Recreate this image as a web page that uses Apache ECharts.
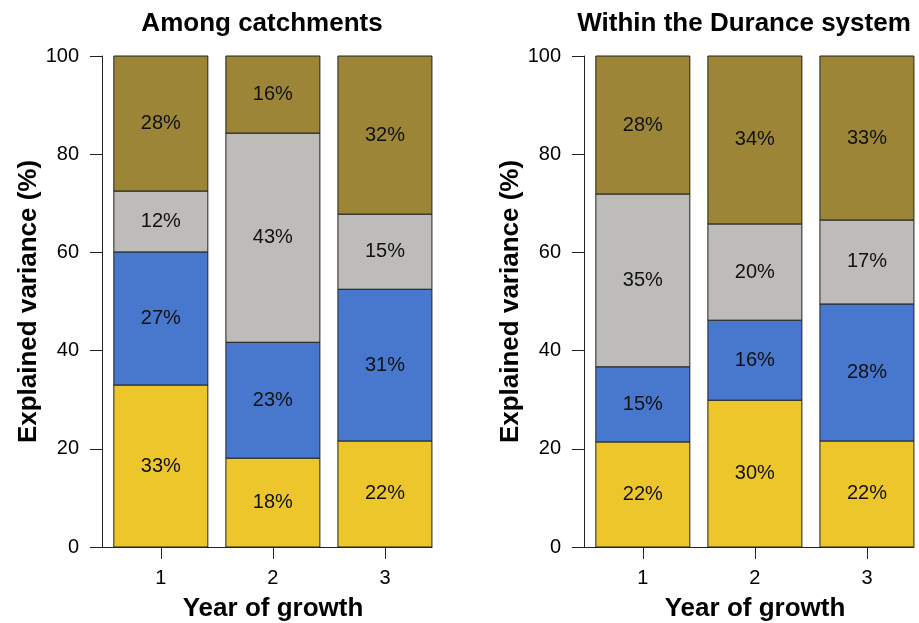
<!DOCTYPE html>
<html>
<head>
<meta charset="utf-8">
<script src="https://cdn.jsdelivr.net/npm/echarts@6/dist/echarts.min.js"></script>
<style>html,body{margin:0;padding:0;background:#fff;overflow:hidden;}#c{width:919px;height:623px;}</style>
</head>
<body>
<div id="c"></div>
<script>
// Data
const years = [1, 2, 3];
const yTicks = [0, 20, 40, 60, 80, 100];
const titles = ['Among catchments', 'Within the Durance system'];

// Panel 1: Among catchments (bottom to top: yellow, blue, grey, olive)
const amongYellow = [33.0, 18.1, 21.6];
const amongBlue   = [27.1, 23.6, 30.9];
const amongGrey   = [12.4, 42.6, 15.3];
const amongOlive  = [27.5, 15.7, 32.2];
const amongYellowLbl = ['33%', '18%', '22%'];
const amongBlueLbl   = ['27%', '23%', '31%'];
const amongGreyLbl   = ['12%', '43%', '15%'];
const amongOliveLbl  = ['28%', '16%', '32%'];

// Panel 2: Within the Durance system
const withinYellow = [21.4, 29.9, 21.6];
const withinBlue   = [15.3, 16.3, 27.9];
const withinGrey   = [35.2, 19.6, 17.1];
const withinOlive  = [28.1, 34.2, 33.4];
const withinYellowLbl = ['22%', '30%', '22%'];
const withinBlueLbl   = ['15%', '16%', '28%'];
const withinGreyLbl   = ['35%', '20%', '17%'];
const withinOliveLbl  = ['28%', '34%', '33%'];

const colors = ['#ECC62B', '#4878CD', '#BDBCB8', '#9C8536'];
const FONT = '"Liberation Sans", Arial, Helvetica, sans-serif';
const BAR_W = 94;

// Build stacked segments [x, base, top, labelIndex]
function buildPanel(idx, layers, labels) {
  const cum = years.map(() => 0);
  return layers.map((vals, li) => {
    const data = years.map((x, i) => {
      const base = cum[i];
      cum[i] += vals[i];
      return [x, base, cum[i], i];
    });
    const lbls = labels[li];
    return {
      type: 'custom', xAxisIndex: idx, yAxisIndex: idx,
      encode: { x: 0, y: [1, 2] },
      data: data,
      renderItem: function (params, api) {
        const x = api.value(0);
        const p0 = api.coord([x, api.value(1)]);
        const p1 = api.coord([x, api.value(2)]);
        const i = api.value(3);
        return {
          type: 'group',
          children: [
            { type: 'rect',
              shape: { x: p0[0] - BAR_W / 2, y: p1[1], width: BAR_W, height: p0[1] - p1[1] },
              style: { fill: colors[li], stroke: '#222', lineWidth: 1 } },
            { type: 'text',
              style: { text: lbls[i], x: p0[0], y: (p0[1] + p1[1]) / 2, align: 'center', verticalAlign: 'middle',
                       font: '20px ' + FONT, fill: '#111' } }
          ]
        };
      },
      animation: false, silent: true
    };
  });
}

function xAx(idx) {
  return {
    type: 'value', gridIndex: idx, min: 0.475, max: 3.42,
    name: 'Year of growth', nameLocation: 'middle', nameGap: 49,
    nameTextStyle: { fontSize: 26, fontWeight: 'bold', color: '#000', fontFamily: FONT, padding: [0, 0, 0, 12] },
    axisLine: { show: true, lineStyle: { color: '#222', width: 1 } },
    axisTick: { show: true, customValues: years, length: 12, lineStyle: { color: '#222' } },
    axisLabel: { show: true, customValues: years, margin: 21, fontSize: 20, color: '#000', fontFamily: FONT },
    splitLine: { show: false }
  };
}
function yAx(idx) {
  return {
    type: 'value', gridIndex: idx, min: 0, max: 100, interval: 20,
    name: 'Explained variance (%)', nameLocation: 'middle', nameGap: 60,
    nameTextStyle: { fontSize: 26, fontWeight: 'bold', color: '#000', fontFamily: FONT },
    axisLine: { show: true, lineStyle: { color: '#222', width: 1 } },
    axisTick: { show: true, length: 12, lineStyle: { color: '#222' } },
    axisLabel: { margin: 23, fontSize: 20, color: '#000', fontFamily: FONT,
      formatter: v => yTicks.includes(v) ? String(v) : '' },
    splitLine: { show: false }
  };
}

const chart = echarts.init(document.getElementById('c'), null, { renderer: 'canvas', width: 919, height: 623 });
chart.setOption({
  animation: false,
  backgroundColor: '#fff',
  title: [
    { text: titles[0], left: 257, top: 6, textAlign: 'center',
      textStyle: { fontSize: 26, fontWeight: 'bold', color: '#000', fontFamily: FONT } },
    { text: titles[1], left: 739, top: 6, textAlign: 'center',
      textStyle: { fontSize: 26, fontWeight: 'bold', color: '#000', fontFamily: FONT } }
  ],
  grid: [
    { left: 102, width: 330, top: 56, height: 491, outerBoundsMode: 'none', containLabel: false },
    { left: 584, width: 330, top: 56, height: 491, outerBoundsMode: 'none', containLabel: false }
  ],
  xAxis: [xAx(0), xAx(1)],
  yAxis: [yAx(0), yAx(1)],
  series: [].concat(
    buildPanel(0, [amongYellow, amongBlue, amongGrey, amongOlive],
      [amongYellowLbl, amongBlueLbl, amongGreyLbl, amongOliveLbl]),
    buildPanel(1, [withinYellow, withinBlue, withinGrey, withinOlive],
      [withinYellowLbl, withinBlueLbl, withinGreyLbl, withinOliveLbl])
  )
});
</script>
</body>
</html>
